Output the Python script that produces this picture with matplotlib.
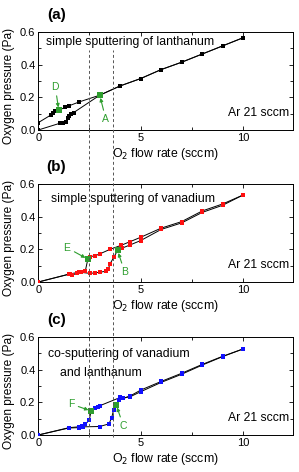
import matplotlib
matplotlib.use('Agg')
import matplotlib.pyplot as plt
from matplotlib.lines import Line2D
from matplotlib.ticker import MultipleLocator
import matplotlib.transforms as mtransforms

plt.rcParams['font.family'] = ['Liberation Sans', 'DejaVu Sans']

# panel (a): simple sputtering of lanthanum
a_up_x = [0, 1.05, 1.2, 1.35, 1.45, 1.52, 1.62, 1.72, 4, 5, 6, 7, 8, 9, 10]
a_up_y = [0.0, 0.041, 0.045, 0.051, 0.071, 0.086, 0.098, 0.106, 0.27, 0.315, 0.37, 0.415, 0.465, 0.515, 0.565]
a_down_x = [10, 9, 8, 7, 6, 5, 4, 2.0, 1.5, 1.3, 0.83, 0.72, 0.62, 0]
a_down_y = [0.565, 0.515, 0.465, 0.415, 0.37, 0.315, 0.27, 0.172, 0.148, 0.138, 0.114, 0.104, 0.092, 0.045]
a_mark = {'D': (1.0, 0.121), 'A': (3.0, 0.213)}

# panel (b): simple sputtering of vanadium
b_up_x = [0, 1.48, 1.64, 1.88, 2.1, 2.52, 2.77, 3.0, 3.3, 3.42, 3.5, 3.69, 4.1, 4.5, 5, 6, 7, 8, 9, 10]
b_up_y = [0.0, 0.047, 0.042, 0.053, 0.059, 0.053, 0.056, 0.06, 0.066, 0.08, 0.111, 0.152, 0.208, 0.228, 0.254, 0.322, 0.362, 0.426, 0.47, 0.533]
b_down_x = [10, 9, 8, 7, 6, 5, 4.5, 4.03, 3.5, 3.0, 2.76, 2.52, 2.3, 2.0, 1.55, 0]
b_down_y = [0.533, 0.478, 0.435, 0.37, 0.33, 0.274, 0.248, 0.224, 0.2, 0.172, 0.16, 0.156, 0.07, 0.06, 0.05, 0.0]
b_mark = {'E': (2.42, 0.14), 'B': (3.87, 0.194)}

# panel (c): co-sputtering of vanadium and lanthanum
c_up_x = [0, 1.5, 2.0, 2.2, 3.0, 3.45, 3.58, 3.68, 3.92, 4.08, 4.5, 5, 6, 7, 8, 9, 10]
c_up_y = [0.0, 0.043, 0.045, 0.05, 0.052, 0.068, 0.105, 0.155, 0.214, 0.224, 0.235, 0.265, 0.322, 0.372, 0.428, 0.48, 0.527]
c_down_x = [10, 9, 8, 7, 6, 5, 4.5, 4.16, 4.0, 3.02, 2.9, 2.78, 2.49, 2.29, 2.13, 1.97, 1.5, 0]
c_down_y = [0.527, 0.482, 0.432, 0.378, 0.328, 0.275, 0.24, 0.225, 0.23, 0.18, 0.172, 0.163, 0.092, 0.065, 0.057, 0.05, 0.045, 0.0]
c_mark = {'F': (2.58, 0.147), 'C': (3.8, 0.185)}

green = '#2e9e2e'

fig = plt.figure(figsize=(2.99, 4.72), dpi=100)
left, width, height = 0.128, 0.853, 0.2076
bottoms = [0.7246, 0.4025, 0.0784]
axes = [fig.add_axes([left, b, width, height]) for b in bottoms]

panels = [
    (a_up_x, a_up_y, a_down_x, a_down_y, a_mark, 'black', '(a)'),
    (b_up_x, b_up_y, b_down_x, b_down_y, b_mark, '#ff1010', '(b)'),
    (c_up_x, c_up_y, c_down_x, c_down_y, c_mark, '#1010ff', '(c)'),
]

for ax, (ux, uy, dx, dy, marks, col, tag) in zip(axes, panels):
    # line goes through the green points too
    names = list(marks)
    lo, hi = marks[names[0]], marks[names[1]]
    if tag == '(a)':
        lx_up = ux[:8] + [hi[0]] + ux[8:]
        ly_up = uy[:8] + [hi[1]] + uy[8:]
        lx_dn = dx[:7] + [hi[0]] + dx[7:10] + [lo[0]] + dx[10:]
        ly_dn = dy[:7] + [hi[1]] + dy[7:10] + [lo[1]] + dy[10:]
    elif tag == '(b)':
        lx_up = ux[:12] + [hi[0]] + ux[12:]
        ly_up = uy[:12] + [hi[1]] + uy[12:]
        lx_dn = dx[:12] + [lo[0]] + dx[12:]
        ly_dn = dy[:12] + [lo[1]] + dy[12:]
    else:
        lx_up = ux[:8] + [hi[0]] + ux[8:]
        ly_up = uy[:8] + [hi[1]] + uy[8:]
        lx_dn = dx[:12] + [lo[0]] + dx[12:]
        ly_dn = dy[:12] + [lo[1]] + dy[12:]
    ax.plot(lx_up, ly_up, '-', color='k', lw=0.7, zorder=2)
    ax.plot(lx_dn, ly_dn, '-', color='k', lw=0.7, zorder=2)
    ax.plot(ux, uy, 's', color=col, ms=3.5, mew=0, zorder=3)
    ax.plot(dx, dy, 's', color=col, ms=3.5, mew=0, zorder=3)
    for p in marks.values():
        ax.plot(p[0], p[1], 's', color=green, ms=5, mew=0, zorder=4)

    ax.set_xlim(0, 12.45)
    ax.set_ylim(0, 0.6)
    ax.set_xticks([0, 5, 10])
    ax.set_yticks([0, 0.2, 0.4, 0.6])
    ax.set_yticklabels(['0.0', '0.2', '0.4', '0.6'])
    ax.xaxis.set_minor_locator(MultipleLocator(2.5))
    ax.yaxis.set_minor_locator(MultipleLocator(0.1))
    ax.tick_params(which='both', direction='in', top=True, right=True, labelsize=8, pad=2)
    ax.tick_params(which='major', length=3, width=0.6)
    ax.tick_params(which='minor', length=2, width=0.6)
    for s in ax.spines.values():
        s.set_linewidth(0.7)
    ax.set_xlabel('O$_2$ flow rate (sccm)', fontsize=8.8, labelpad=2)
    ax.set_ylabel('Oxygen pressure (Pa)', fontsize=8.6)
    ax.yaxis.set_label_coords(-0.09, 0.45)
    ax.text(0.07, 1.17, tag, transform=ax.transAxes, ha='center', va='center',
            fontsize=11, fontweight='bold')
    ax.text(12.25, 0.104, 'Ar 21 sccm', ha='right', va='center', fontsize=8.8)

arrow = dict(arrowstyle='-|>', color=green, lw=0.8, mutation_scale=5, shrinkA=1, shrinkB=2)
axes[0].annotate('D', xy=a_mark['D'], xytext=(0.83, 0.265), color=green, fontsize=7.5,
                 ha='center', va='center', arrowprops=arrow)
axes[0].annotate('A', xy=a_mark['A'], xytext=(3.3, 0.065), color=green, fontsize=7.5,
                 ha='center', va='center', arrowprops=arrow)
axes[1].annotate('E', xy=b_mark['E'], xytext=(1.4, 0.21), color=green, fontsize=7.5,
                 ha='center', va='center', arrowprops=arrow)
axes[1].annotate('B', xy=b_mark['B'], xytext=(4.22, 0.06), color=green, fontsize=7.5,
                 ha='center', va='center', arrowprops=arrow)
axes[2].annotate('F', xy=c_mark['F'], xytext=(1.6, 0.19), color=green, fontsize=7.5,
                 ha='center', va='center', arrowprops=arrow)
axes[2].annotate('C', xy=c_mark['C'], xytext=(4.16, 0.055), color=green, fontsize=7.5,
                 ha='center', va='center', arrowprops=arrow)

axes[0].text(4.5, 0.54, 'simple sputtering of lanthanum', ha='center', va='center', fontsize=8.8)
axes[1].text(4.64, 0.51, 'simple sputtering of vanadium', ha='center', va='center', fontsize=8.8)
axes[2].text(3.92, 0.494, 'co-sputtering of vanadium', ha='center', va='center', fontsize=8.8)
axes[2].text(3.07, 0.38, 'and lanthanum', ha='center', va='center', fontsize=8.8)

# dashed guide lines across all three panels
trans = mtransforms.blended_transform_factory(axes[2].transData, fig.transFigure)
for xv in [2.5, 3.65]:
    fig.add_artist(Line2D([xv, xv], [0.074, 0.894], transform=trans, color='#555555',
                          lw=0.7, ls=(0, (3, 2.5)), zorder=1))

fig.savefig('out.png', dpi=100)
